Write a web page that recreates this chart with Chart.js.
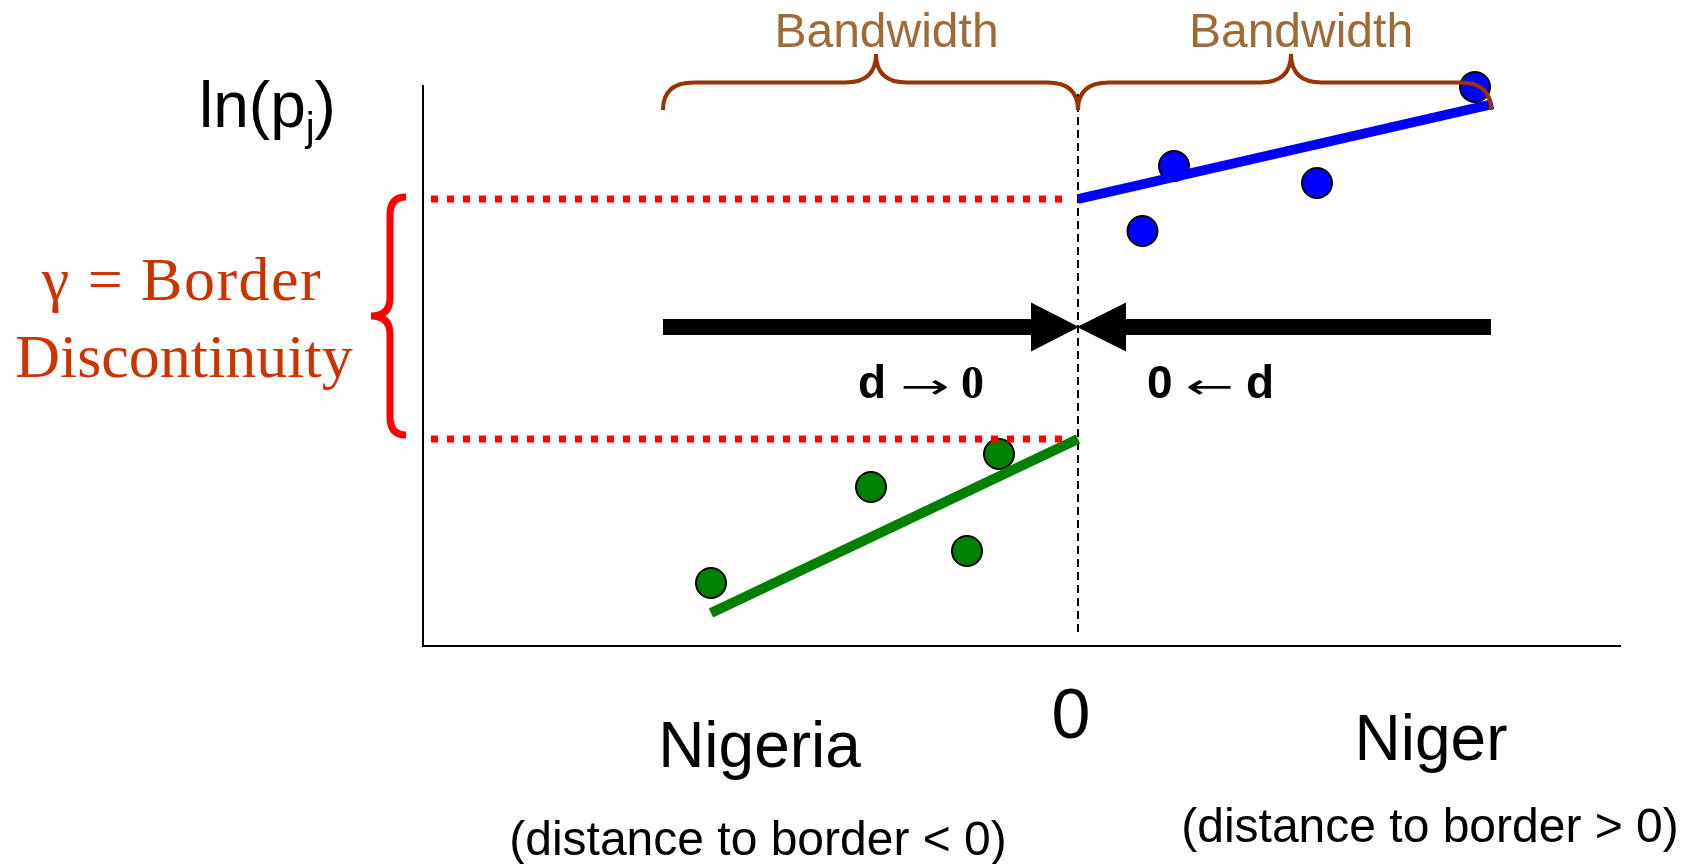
<!DOCTYPE html>
<html>
<head>
<meta charset="utf-8">
<script src="https://cdn.jsdelivr.net/npm/chart.js@4/dist/chart.umd.min.js"></script>
<style>
html,body{margin:0;padding:0;background:#fff;overflow:hidden}
canvas{display:block}
</style>
</head>
<body>
<canvas id="c" width="1685" height="864"></canvas>
<script>
// ---------------- data (distance to border, ln price) ----------------
const nigeriaX = [-3.67, -2.07, -1.11, -0.79];
const nigeriaY = [0.63, 1.59, 0.95, 1.92];
const nigerX   = [0.645, 0.96, 2.39, 3.97];
const nigerY   = [4.15, 4.80, 4.63, 5.59];

const nigeriaFitX = [-3.67, 0];
const nigeriaFitY = [0.33, 2.07];
const nigerFitX   = [0, 4.15];
const nigerFitY   = [4.47, 5.42];

const gammaLevels = [4.47, 2.07];      // intercepts at the border
const gammaLineX  = [-6.47, -0.16];

const arrowY      = 3.19;
const leftShaftX  = [-4.15, -0.47];
const rightShaftX = [4.13, 0.48];
const headHalf    = 0.24;

const borderLineY = [0.14, 5.52];
const bandwidthBraces = [[-4.15, 0, -2.02], [0, 4.13, 2.13]]; // start, end, cusp

const xTickValues = [0];
const xTickLabels = ['0'];

const X_MIN = -6.55, X_MAX = 5.42, Y_MIN = 0, Y_MAX = 5.6;

const SANS  = '"Liberation Sans", Arial, Helvetica, sans-serif';
const SERIF = '"Liberation Serif", "Times New Roman", serif';
const SYM   = '"DejaVu Sans", sans-serif';

const pts = (xs, ys) => xs.map((x, i) => ({x, y: ys[i]}));
const hline = (xs, y) => xs.map(x => ({x, y}));

function lineDs(data, color, width, extra) {
  return Object.assign({
    data, borderColor: color, borderWidth: width, pointRadius: 0,
    showLine: true, fill: false, tension: 0, clip: false, borderCapStyle: 'butt'
  }, extra || {});
}

const datasets = [
  lineDs(hline(gammaLineX, gammaLevels[0]), '#FF0000', 7, {borderDash: [7, 9]}),
  lineDs(hline(gammaLineX, gammaLevels[1]), '#FF0000', 7, {borderDash: [7, 9]}),
  lineDs(pts(nigeriaFitX, nigeriaFitY), '#008000', 10),
  lineDs(pts(nigerFitX, nigerFitY), '#0000FF', 10),
  lineDs(hline(leftShaftX, arrowY), '#000000', 16),
  lineDs(hline(rightShaftX, arrowY), '#000000', 16),
  lineDs([{x: leftShaftX[1], y: arrowY + headHalf}, {x: 0, y: arrowY}, {x: leftShaftX[1], y: arrowY - headHalf}],
         '#000000', 1, {fill: 'shape', backgroundColor: '#000000'}),
  lineDs([{x: rightShaftX[1], y: arrowY + headHalf}, {x: 0, y: arrowY}, {x: rightShaftX[1], y: arrowY - headHalf}],
         '#000000', 1, {fill: 'shape', backgroundColor: '#000000'}),
  lineDs(borderLineY.map(y => ({x: 0, y})), '#000000', 2, {borderDash: [8, 5]}),
  {data: pts(nigeriaX, nigeriaY), showLine: false, pointRadius: 15, pointBackgroundColor: '#008000',
   pointBorderColor: '#000000', pointBorderWidth: 2, clip: false},
  {data: pts(nigerX, nigerY), showLine: false, pointRadius: 15, pointBackgroundColor: '#0000FF',
   pointBorderColor: '#000000', pointBorderWidth: 2, clip: false}
];

// ---------------- annotation drawing ----------------
function hBrace(ctx, x0, x1, xc, yEnd, yMid, yTip, r) {
  ctx.beginPath();
  ctx.moveTo(x0, yEnd);
  ctx.quadraticCurveTo(x0, yMid, x0 + r, yMid);
  ctx.lineTo(xc - r, yMid);
  ctx.quadraticCurveTo(xc, yMid, xc, yTip);
  ctx.moveTo(xc, yTip);
  ctx.quadraticCurveTo(xc, yMid, xc + r, yMid);
  ctx.lineTo(x1 - r, yMid);
  ctx.quadraticCurveTo(x1, yMid, x1, yEnd);
  ctx.stroke();
}
function vBrace(ctx, xEnd, xMid, xTip, yTop, yBot, r) {
  const yc = (yTop + yBot) / 2;
  ctx.beginPath();
  ctx.moveTo(xEnd, yTop);
  ctx.quadraticCurveTo(xMid, yTop, xMid, yTop + r);
  ctx.lineTo(xMid, yc - r);
  ctx.quadraticCurveTo(xMid, yc, xTip, yc);
  ctx.moveTo(xTip, yc);
  ctx.quadraticCurveTo(xMid, yc, xMid, yc + r);
  ctx.lineTo(xMid, yBot - r);
  ctx.quadraticCurveTo(xMid, yBot, xEnd, yBot);
  ctx.stroke();
}
// parts are laid out by ink extents: {t, font, w?(target ink width)} or {gap}
function drawParts(ctx, parts, cx, y) {
  let total = 0;
  parts.forEach(p => {
    if (p.gap) { p.adv = p.gap; }
    else {
      ctx.font = p.font;
      const m = ctx.measureText(p.t);
      p.l = m.actualBoundingBoxLeft; p.ink = m.actualBoundingBoxLeft + m.actualBoundingBoxRight;
      p.sx = p.w ? p.w / p.ink : 1;
      p.adv = p.ink * p.sx;
    }
    total += p.adv;
  });
  let x = cx - total / 2;
  ctx.textAlign = 'left';
  ctx.fillStyle = '#000';
  parts.forEach(p => {
    if (!p.gap) {
      ctx.font = p.font;
      ctx.save();
      ctx.translate(x + p.l * p.sx, y + (p.dy || 0));
      ctx.scale(p.sx, 1);
      ctx.fillText(p.t, 0, 0);
      ctx.restore();
    }
    x += p.adv;
  });
}

const texts = [
  {t: 'Bandwidth', x: -1.915, y: 5.993, font: `48px ${SANS}`, color: '#9E6A38'},
  {t: 'Bandwidth', x: 2.23,   y: 5.993, font: `48px ${SANS}`, color: '#9E6A38'},
  {t: 'γ = Border', x: -8.96, y: 3.46, font: `62px ${SERIF}`, color: '#CC3300', ls: '1.5px'},
  {t: 'Discontinuity', x: -8.94, y: 2.69, font: `62px ${SERIF}`, color: '#CC3300'},
  {t: 'Nigeria', x: -3.185, y: -1.21, font: `64px ${SANS}`, color: '#000'},
  {t: 'Niger', x: 3.53, y: -1.14, font: `64px ${SANS}`, color: '#000'},
  {t: '(distance to border < 0)', x: -3.2, y: -2.09, font: `48px ${SANS}`, color: '#000'},
  {t: '(distance to border > 0)', x: 3.52, y: -1.96, font: `48px ${SANS}`, color: '#000'}
];

const annot = {
  id: 'annot',
  afterDatasetsDraw(chart) {
    const ctx = chart.ctx, xs = chart.scales.x, ys = chart.scales.y;
    const X = v => xs.getPixelForValue(v), Y = v => ys.getPixelForValue(v);
    ctx.save();
    ctx.lineJoin = 'round';
    ctx.lineCap = 'butt';
    // bandwidth braces
    ctx.strokeStyle = '#993300';
    ctx.lineWidth = 4;
    bandwidthBraces.forEach(([a, b, c]) => hBrace(ctx, X(a), X(b), X(c), Y(5.36), Y(5.635), Y(5.92), 31));
    // gamma brace
    ctx.strokeStyle = '#FF0000';
    ctx.lineWidth = 7;
    vBrace(ctx, X(-6.72), X(-6.88), X(-7.07), Y(gammaLevels[0] + 0.02), Y(gammaLevels[1] + 0.04), 18);
    // texts
    ctx.textBaseline = 'alphabetic';
    texts.forEach(o => {
      ctx.font = o.font; ctx.fillStyle = o.color; ctx.textAlign = 'center';
      ctx.letterSpacing = o.ls || '0px';
      ctx.fillText(o.t, X(o.x), Y(o.y));
    });
    ctx.letterSpacing = '0px';
    // ln(p_j)
    ctx.textAlign = 'left';
    ctx.fillStyle = '#000';
    let lx = X(-8.79); const ly = Y(5.19);
    ctx.font = `64px ${SANS}`; ctx.fillText('ln(p', lx, ly); lx += ctx.measureText('ln(p').width;
    ctx.font = `40px ${SANS}`; ctx.fillText('j', lx, ly + 14); lx += ctx.measureText('j').width;
    ctx.font = `64px ${SANS}`; ctx.fillText(')', lx, ly);
    // d -> 0 labels
    drawParts(ctx, [
      {t: 'd', font: `bold 46px ${SANS}`},
      {gap: 18},
      {t: '\u2192', font: `34px ${SYM}`, w: 45},
      {gap: 15},
      {t: '0', font: `bold 46px ${SERIF}`}
    ], X(-1.57), Y(2.48));
    drawParts(ctx, [
      {t: '0', font: `bold 46px ${SANS}`},
      {gap: 16},
      {t: '\u2190', font: `34px ${SYM}`, w: 44},
      {gap: 16},
      {t: 'd', font: `bold 46px ${SANS}`}
    ], X(1.32), Y(2.48));
    ctx.restore();
  }
};

new Chart(document.getElementById('c'), {
  type: 'line',
  data: {datasets},
  plugins: [annot],
  options: {
    responsive: false,
    devicePixelRatio: 1,
    animation: false,
    events: [],
    layout: {padding: {left: 0, top: 86, right: 65, bottom: 0}},
    plugins: {legend: {display: false}, tooltip: {enabled: false}, title: {display: false}},
    scales: {
      x: {
        type: 'linear', min: X_MIN, max: X_MAX,
        grid: {display: false, drawTicks: false},
        border: {display: true, color: '#000', width: 2},
        afterBuildTicks: s => { s.ticks = xTickValues.map(v => ({value: v})); },
        afterFit: s => { s.height = 218; },
        ticks: {
          autoSkip: false, maxRotation: 0, color: '#000', padding: 38, labelOffset: -7,
          font: {family: SANS, size: 70, lineHeight: 1},
          callback: v => xTickLabels[xTickValues.indexOf(v)]
        }
      },
      y: {
        type: 'linear', min: Y_MIN, max: Y_MAX,
        grid: {display: false, drawTicks: false},
        border: {display: true, color: '#000', width: 2},
        ticks: {display: false},
        afterFit: s => { s.width = 423; }
      }
    }
  }
});
</script>
</body>
</html>
